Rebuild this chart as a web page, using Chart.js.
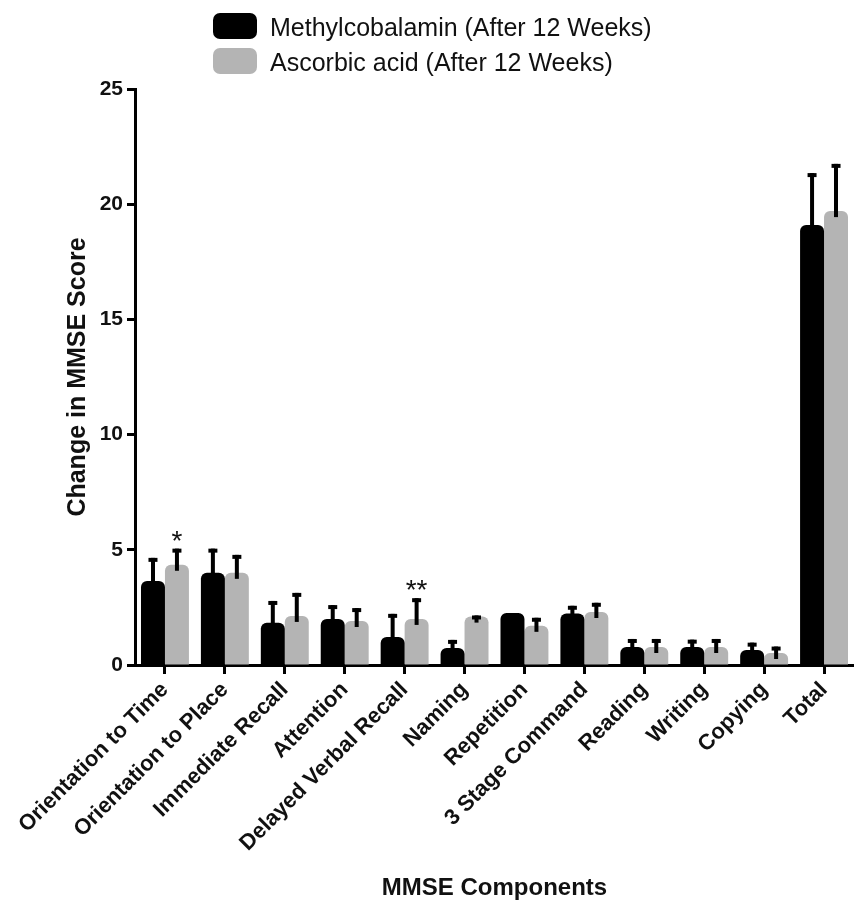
<!DOCTYPE html>
<html>
<head>
<meta charset="utf-8">
<script src="https://cdn.jsdelivr.net/npm/chart.js@4"></script>
<style>
    body { margin: 0; background: #fff; }
    #wrap { position: relative; width: 854px; height: 905px; }
    .legend { position: absolute; left: 213px; font-family: 'Liberation Sans', Arial, sans-serif; font-size: 25px; color: #111; }
    .legend .box { position: absolute; left: 0; width: 44px; height: 26px; border-radius: 7px; }
    .legend .txt { position: absolute; left: 57px; white-space: nowrap; line-height: 26px; }
</style>
</head>
<body>
<div id="wrap">
    <canvas id="chart" width="854" height="905"></canvas>
    <div class="legend" style="top: 13px;">
        <div class="box" style="background: #000;"></div>
        <div class="txt" style="top: 1px;">Methylcobalamin (After 12 Weeks)</div>
    </div>
    <div class="legend" style="top: 48px;">
        <div class="box" style="background: #b4b4b4;"></div>
        <div class="txt" style="top: 1px;">Ascorbic acid (After 12 Weeks)</div>
    </div>
</div>
<script>
const components = [
    'Orientation to Time', 'Orientation to Place', 'Immediate Recall', 'Attention',
    'Delayed Verbal Recall', 'Naming', 'Repetition', '3 Stage Command',
    'Reading', 'Writing', 'Copying', 'Total',
];
const methylcobalamin = [3.65, 4.0, 1.83, 2.0, 1.22, 0.74, 2.26, 2.24, 0.78, 0.78, 0.65, 19.1];
const methylcobalaminSd = [1.0, 1.05, 0.95, 0.6, 1.0, 0.35, 0, 0.33, 0.35, 0.32, 0.32, 2.25];
const ascorbicAcid = [4.35, 4.0, 2.13, 1.91, 2.0, 2.1, 1.7, 2.3, 0.78, 0.78, 0.52, 19.7];
const ascorbicAcidSd = [0.7, 0.78, 1.0, 0.56, 0.9, 0.05, 0.35, 0.4, 0.35, 0.35, 0.28, 2.05];
const ascorbicStars = ['*', '', '', '', '**', '', '', '', '', '', '', ''];
const yTicks = [0, 5, 10, 15, 20, 25];

// upward error bars + significance marks
const errorBars = {
    id: 'errorBars',
    afterDatasetsDraw(chart) {
        const ctx = chart.ctx;
        const y = chart.scales.y;
        ctx.save();
        chart.data.datasets.forEach((ds, d) => {
            const meta = chart.getDatasetMeta(d);
            meta.data.forEach((bar, i) => {
                const sd = ds.sd[i];
                const top = y.getPixelForValue(ds.data[i] + sd);
                if (sd > 0) {
                    ctx.strokeStyle = '#000';
                    ctx.lineWidth = 4;
                    ctx.beginPath();
                    ctx.moveTo(bar.x, bar.y + 6);
                    ctx.lineTo(bar.x, top);
                    ctx.stroke();
                    ctx.beginPath();
                    ctx.moveTo(bar.x - 4.5, top + 2);
                    ctx.lineTo(bar.x + 4.5, top + 2);
                    ctx.stroke();
                }
                if (ds.stars && ds.stars[i]) {
                    ctx.fillStyle = '#111';
                    ctx.font = '28px "Liberation Sans", Arial, sans-serif';
                    ctx.textAlign = 'center';
                    ctx.textBaseline = 'alphabetic';
                    ctx.fillText(ds.stars[i], bar.x, top + 1);
                }
            });
        });
        ctx.restore();
    },
};

new Chart(document.getElementById('chart'), {
    type: 'bar',
    data: {
        labels: components,
        datasets: [
            {
                label: 'Methylcobalamin (After 12 Weeks)',
                data: methylcobalamin,
                sd: methylcobalaminSd,
                backgroundColor: '#000',
                borderRadius: 6,
                categoryPercentage: 0.8,
                barPercentage: 1,
            },
            {
                label: 'Ascorbic acid (After 12 Weeks)',
                data: ascorbicAcid,
                sd: ascorbicAcidSd,
                stars: ascorbicStars,
                backgroundColor: '#b4b4b4',
                borderRadius: 6,
                categoryPercentage: 0.8,
                barPercentage: 1,
            },
        ],
    },
    options: {
        responsive: false,
        animation: false,
        layout: { padding: { top: 89, right: 0, left: 0, bottom: 0 } },
        plugins: {
            legend: { display: false },
            tooltip: { enabled: false },
        },
        scales: {
            x: {
                offset: true,
                border: { color: '#000', width: 3 },
                grid: { display: true, drawOnChartArea: false, offset: false, tickLength: 9, tickWidth: 3, tickColor: '#000' },
                ticks: {
                    autoSkip: false,
                    maxRotation: 45,
                    minRotation: 45,
                    color: '#111',
                    font: { family: '"Liberation Sans", Arial, sans-serif', size: 22, weight: 'bold' },
                },
                title: {
                    display: true,
                    text: 'MMSE Components',
                    color: '#111',
                    font: { family: '"Liberation Sans", Arial, sans-serif', size: 24, weight: 'bold' },
                    padding: { top: 0, bottom: 2 },
                },
                afterFit(scale) { scale.height = 240; },
            },
            y: {
                min: 0,
                max: 25,
                border: { color: '#000', width: 3 },
                grid: { display: true, drawOnChartArea: false, tickLength: 8, tickWidth: 3, tickColor: '#000' },
                afterBuildTicks(scale) { scale.ticks = yTicks.map((v) => ({ value: v })); },
                ticks: {
                    padding: 4,
                    color: '#111',
                    font: { family: '"Liberation Sans", Arial, sans-serif', size: 21, weight: 'bold' },
                },
                title: {
                    display: true,
                    text: 'Change in MMSE Score',
                    color: '#111',
                    font: { family: '"Liberation Sans", Arial, sans-serif', size: 25, weight: 'bold' },
                    padding: { top: 63, bottom: 0 },
                },
                afterFit(scale) { scale.width = 135; },
            },
        },
    },
    plugins: [errorBars],
});
</script>
</body>
</html>
